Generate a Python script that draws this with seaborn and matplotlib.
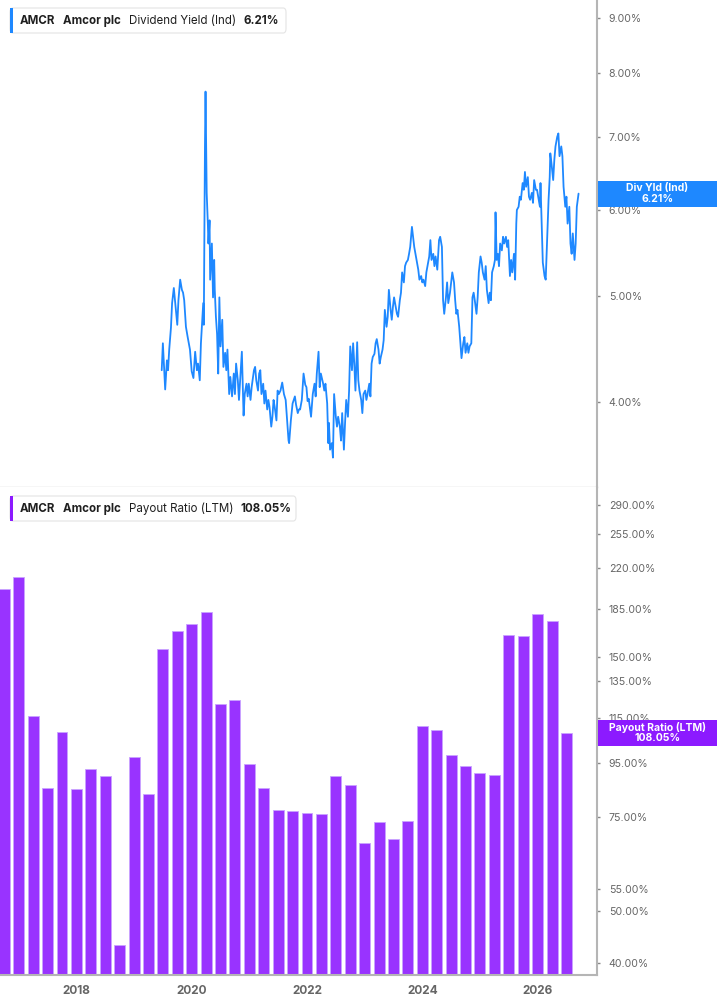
import matplotlib
matplotlib.use('Agg')
import matplotlib.pyplot as plt
import seaborn as sns
from matplotlib.ticker import FixedLocator, FuncFormatter, NullLocator
from matplotlib.patches import FancyBboxPatch, Rectangle

# dividend yield (Ind), % (decimal years)
yield_dates = [
    2019.48, 2019.50, 2019.54, 2019.57, 2019.59, 2019.61, 2019.64, 2019.66, 2019.69, 2019.72,
    2019.75, 2019.77, 2019.80, 2019.83, 2019.85, 2019.87, 2019.90, 2019.93, 2019.97, 2020.00,
    2020.03, 2020.06, 2020.09, 2020.11, 2020.14, 2020.16, 2020.20, 2020.21, 2020.23, 2020.24,
    2020.25, 2020.26, 2020.28, 2020.29, 2020.31, 2020.32, 2020.35, 2020.37, 2020.39, 2020.40,
    2020.42, 2020.44, 2020.46, 2020.48, 2020.50, 2020.53, 2020.55, 2020.58, 2020.60, 2020.62,
    2020.65, 2020.67, 2020.70, 2020.73, 2020.75, 2020.77, 2020.80, 2020.82, 2020.84, 2020.87,
    2020.88, 2020.90, 2020.92, 2020.95, 2020.97, 2020.99, 2021.02, 2021.04, 2021.08, 2021.10,
    2021.12, 2021.15, 2021.17, 2021.19, 2021.21, 2021.24, 2021.26, 2021.28, 2021.31, 2021.33,
    2021.35, 2021.38, 2021.40, 2021.42, 2021.44, 2021.47, 2021.49, 2021.51, 2021.54, 2021.57,
    2021.60, 2021.63, 2021.65, 2021.68, 2021.69, 2021.72, 2021.75, 2021.77, 2021.79, 2021.81,
    2021.84, 2021.86, 2021.88, 2021.91, 2021.94, 2021.97, 2021.99, 2022.01, 2022.03, 2022.07,
    2022.10, 2022.13, 2022.15, 2022.17, 2022.20, 2022.22, 2022.24, 2022.28, 2022.30, 2022.32,
    2022.35, 2022.37, 2022.38, 2022.40, 2022.43, 2022.45, 2022.47, 2022.50, 2022.52, 2022.54,
    2022.57, 2022.59, 2022.61, 2022.64, 2022.66, 2022.68, 2022.71, 2022.73, 2022.75, 2022.78,
    2022.80, 2022.82, 2022.84, 2022.87, 2022.89, 2022.91, 2022.94, 2022.96, 2022.98, 2023.01,
    2023.03, 2023.05, 2023.08, 2023.10, 2023.12, 2023.14, 2023.17, 2023.19, 2023.21, 2023.24,
    2023.26, 2023.28, 2023.31, 2023.33, 2023.35, 2023.38, 2023.40, 2023.42, 2023.45, 2023.47,
    2023.49, 2023.51, 2023.54, 2023.56, 2023.58, 2023.61, 2023.63, 2023.65, 2023.68, 2023.70,
    2023.72, 2023.75, 2023.77, 2023.79, 2023.82, 2023.84, 2023.86, 2023.89, 2023.91, 2023.93,
    2023.95, 2023.98, 2024.00, 2024.02, 2024.05, 2024.07, 2024.09, 2024.12, 2024.14, 2024.16,
    2024.19, 2024.21, 2024.23, 2024.26, 2024.29, 2024.31, 2024.34, 2024.36, 2024.38, 2024.41,
    2024.43, 2024.45, 2024.48, 2024.50, 2024.52, 2024.55, 2024.57, 2024.59, 2024.61, 2024.64,
    2024.66, 2024.68, 2024.71, 2024.73, 2024.75, 2024.78, 2024.80, 2024.82, 2024.85, 2024.87,
    2024.89, 2024.91, 2024.94, 2024.96, 2024.98, 2025.01, 2025.03, 2025.05, 2025.08, 2025.10,
    2025.12, 2025.15, 2025.17, 2025.19, 2025.21, 2025.24, 2025.26, 2025.27, 2025.29, 2025.31,
    2025.33, 2025.35, 2025.38, 2025.40, 2025.42, 2025.45, 2025.47, 2025.49, 2025.52, 2025.54,
    2025.56, 2025.59, 2025.61, 2025.63, 2025.64, 2025.67, 2025.69, 2025.71, 2025.74, 2025.76,
    2025.78, 2025.80, 2025.83, 2025.85, 2025.87, 2025.90, 2025.92, 2025.94, 2025.97, 2025.99,
    2026.01, 2026.04, 2026.05, 2026.07, 2026.09, 2026.12, 2026.14, 2026.16, 2026.19, 2026.21,
    2026.22, 2026.24, 2026.27, 2026.29, 2026.31, 2026.34, 2026.36, 2026.38, 2026.41, 2026.43,
    2026.45, 2026.48, 2026.50, 2026.52, 2026.55, 2026.57, 2026.59, 2026.61, 2026.64, 2026.66,
    2026.68, 2026.71,
]
yield_values = [
    4.28, 4.53, 4.11, 4.37, 4.28, 4.47, 4.68, 4.93, 5.09, 4.89,
    4.71, 4.96, 5.18, 5.07, 5.04, 4.96, 4.69, 4.59, 4.47, 4.27,
    4.21, 4.45, 4.28, 4.34, 4.19, 4.53, 4.93, 4.71, 6.86, 7.70,
    6.95, 6.22, 5.83, 5.59, 5.87, 5.18, 5.59, 4.99, 5.40, 5.07,
    4.79, 4.62, 4.25, 4.99, 4.50, 4.76, 4.31, 4.44, 4.28, 4.47,
    4.07, 4.22, 4.05, 4.25, 4.07, 4.34, 4.19, 4.02, 4.19, 4.45,
    4.25, 3.89, 4.07, 4.16, 4.05, 4.16, 4.02, 4.13, 4.28, 4.31,
    4.19, 4.10, 4.25, 4.28, 4.07, 4.16, 3.99, 4.10, 3.94, 4.02,
    3.96, 3.80, 3.88, 4.02, 3.96, 3.85, 4.10, 4.07, 4.10, 4.17,
    4.07, 4.02, 3.88, 3.69, 3.67, 3.85, 3.99, 4.02, 4.05, 3.98,
    3.91, 3.94, 3.94, 4.02, 4.25, 4.15, 4.13, 4.01, 4.03, 3.88,
    4.07, 4.16, 4.05, 4.25, 4.45, 4.13, 4.25, 4.16, 4.10, 4.16,
    3.99, 3.67, 3.83, 3.62, 3.67, 3.56, 4.07, 3.88, 3.80, 3.88,
    3.80, 3.69, 3.91, 3.62, 3.83, 4.02, 3.88, 4.10, 4.50, 4.28,
    4.53, 4.34, 4.10, 4.54, 4.19, 4.10, 4.02, 3.91, 4.07, 4.10,
    4.02, 4.07, 4.16, 4.05, 4.34, 4.40, 4.43, 4.53, 4.57, 4.47,
    4.34, 4.40, 4.47, 4.56, 4.86, 4.69, 4.79, 5.07, 4.86, 4.76,
    4.89, 4.99, 4.89, 4.82, 4.79, 4.96, 5.04, 5.26, 5.15, 5.33,
    5.37, 5.40, 5.47, 5.55, 5.79, 5.67, 5.55, 5.44, 5.37, 5.29,
    5.18, 5.22, 5.15, 5.18, 5.11, 5.26, 5.33, 5.44, 5.63, 5.40,
    5.47, 5.33, 5.44, 5.29, 5.63, 5.67, 5.55, 4.96, 4.82, 4.99,
    5.15, 4.93, 5.04, 5.15, 5.26, 5.15, 4.96, 4.82, 4.86, 4.69,
    4.53, 4.39, 4.53, 4.59, 4.44, 4.53, 4.44, 4.50, 4.53, 4.99,
    5.04, 4.96, 4.82, 4.99, 5.26, 5.44, 5.37, 5.26, 5.18, 5.33,
    5.07, 4.93, 5.04, 4.96, 5.26, 5.33, 5.40, 5.97, 5.40, 5.47,
    5.33, 5.59, 5.51, 5.67, 5.59, 5.67, 5.55, 5.63, 5.22, 5.40,
    5.26, 5.47, 5.18, 5.83, 6.00, 6.04, 6.17, 6.13, 6.35, 6.26,
    6.50, 6.30, 6.43, 6.17, 6.13, 6.22, 6.09, 6.39, 6.26, 6.26,
    6.17, 6.04, 6.35, 5.83, 5.37, 5.22, 5.18, 5.55, 6.13, 6.43,
    6.76, 6.62, 6.39, 6.67, 6.86, 7.00, 7.05, 6.72, 6.86, 6.72,
    6.30, 6.04, 6.17, 5.83, 6.04, 5.59, 5.47, 5.71, 5.40, 5.59,
    6.04, 6.21,
]

# payout ratio (LTM), %, quarterly
payout_dates = [
    2016.75, 2017.00, 2017.25, 2017.50, 2017.75, 2018.00, 2018.25, 2018.50, 2018.75, 2019.00,
    2019.25, 2019.50, 2019.75, 2020.00, 2020.25, 2020.50, 2020.75, 2021.00, 2021.25, 2021.50,
    2021.75, 2022.00, 2022.25, 2022.50, 2022.75, 2023.00, 2023.25, 2023.50, 2023.75, 2024.00,
    2024.25, 2024.50, 2024.75, 2025.00, 2025.25, 2025.50, 2025.75, 2026.00, 2026.25, 2026.50,
]
payout_values = [
    201.0, 212.0, 116.3, 85.2, 108.5, 84.9, 92.5, 89.7, 43.2, 97.3,
    82.9, 155.2, 168.0, 172.9, 182.6, 122.3, 124.8, 94.4, 85.1, 77.5,
    77.1, 76.5, 76.2, 89.8, 86.1, 67.1, 73.4, 68.3, 73.8, 111.2,
    109.4, 98.1, 93.5, 90.7, 90.2, 164.8, 164.6, 180.5, 175.4, 108.05,
]

yield_ticks = [4, 5, 6, 7, 8, 9]
payout_ticks = [40, 50, 55, 75, 95, 115, 135, 150, 185, 220, 255, 290]
year_ticks = [2018, 2020, 2022, 2024, 2026]

BLUE = '#1e88ff'
PURPLE = '#9933ff'
LABEL_PURPLE = '#8c1aff'

sns.set_style('white')
plt.rcParams['font.family'] = ['Inter', 'DejaVu Sans']

W, H = 717, 1005
fig = plt.figure(figsize=(W / 100, H / 100), dpi=100)
ax1 = fig.add_axes([0, 1 - 487 / H, 597 / W, 487 / H])
ax2 = fig.add_axes([0, 1 - 975 / H, 597 / W, 488 / H])

sns.lineplot(x=yield_dates, y=yield_values, ax=ax1, color=BLUE, lw=1.3,
             estimator=None, sort=False)
sns.barplot(x=payout_dates, y=payout_values, ax=ax2, native_scale=True,
            color=PURPLE, width=0.76, errorbar=None, saturation=1,
            edgecolor='#c9a3ff', linewidth=0.6)

pct = FuncFormatter(lambda v, _: f'{v:.2f}%')
for ax, ticks, lims in [(ax1, yield_ticks, (3.346, 9.34)),
                        (ax2, payout_ticks, (37.9, 313))]:
    ax.set_yscale('log')
    ax.set_ylim(*lims)
    ax.set_xlim(2016.675, 2027.03)
    ax.yaxis.tick_right()
    ax.yaxis.set_major_locator(FixedLocator(ticks))
    ax.yaxis.set_major_formatter(pct)
    ax.yaxis.set_minor_locator(NullLocator())
    ax.tick_params(axis='y', length=2.5, width=1, color='#888888',
                   labelsize=7.6, labelcolor='#666666', pad=6)
    ax.set_xlabel('')
    ax.set_ylabel('')
    ax.spines['left'].set_visible(False)
    ax.spines['top'].set_visible(False)
    ax.spines['right'].set_color('#b5b5b5')
    ax.spines['right'].set_linewidth(1.5)

ax1.set_xticks([])
ax1.spines['bottom'].set_color('#d4d4d4')
ax1.spines['bottom'].set_linewidth(1)

ax2.set_xticks(year_ticks)
ax2.set_xticklabels([str(y) for y in year_ticks])
ax2.xaxis.set_minor_locator(NullLocator())
ax2.tick_params(axis='x', length=4, width=1, color='#999999', labelsize=8.5,
                labelcolor='#666666', pad=3)
for t in ax2.get_xticklabels():
    t.set_fontweight('bold')
ax2.spines['bottom'].set_color('#b5b5b5')
ax2.spines['bottom'].set_linewidth(1.5)


def fx(x):
    return x / W


def fy(y):
    return 1 - y / H


# legend boxes at the top left of each panel
def legend_box(y0, width, color, parts):
    fig.patches.append(FancyBboxPatch(
        (fx(10), fy(y0 + 25)), fx(width), 25 / H,
        boxstyle='round,pad=0,rounding_size=0.004', transform=fig.transFigure,
        fc='white', ec='#e4e4e4', lw=0.8, zorder=5))
    fig.patches.append(Rectangle((fx(10), fy(y0 + 25)), fx(3), 25 / H,
                                 transform=fig.transFigure, fc=color, ec='none',
                                 zorder=6))
    for x, txt, weight in parts:
        fig.text(fx(x), fy(y0 + 12.8), txt, fontsize=8.3, fontweight=weight,
                 color='#1f1f1f', va='center', ha='left', zorder=7)


legend_box(8, 276, BLUE, [(20, 'AMCR', 'bold'), (63, 'Amcor plc', 'bold'),
                          (129, 'Dividend Yield (Ind)', 'normal'),
                          (244, f'{yield_values[-1]:.2f}%', 'bold')])
legend_box(496, 286, LABEL_PURPLE, [(20, 'AMCR', 'bold'), (63, 'Amcor plc', 'bold'),
                                    (129, 'Payout Ratio (LTM)', 'normal'),
                                    (240, f'{payout_values[-1]:.2f}%', 'bold')])


# last value labels on the right axis
def value_label(ax, value, color, title):
    fig.canvas.draw()
    ydisp = ax.transData.transform((2026.0, value))[1]
    yc = ydisp / H
    h = 26 / H
    fig.patches.append(Rectangle((fx(598), yc - h / 2), fx(W - 598), h,
                                 transform=fig.transFigure, fc=color, ec='none',
                                 zorder=8))
    fig.text(fx(657.5), yc + 5.5 / H, title, fontsize=7.5, fontweight='bold',
             color='white', ha='center', va='center', zorder=9)
    fig.text(fx(657.5), yc - 5.5 / H, f'{value:.2f}%', fontsize=7.5, fontweight='bold',
             color='white', ha='center', va='center', zorder=9)


value_label(ax1, yield_values[-1], BLUE, 'Div Yld (Ind)')
value_label(ax2, payout_values[-1], LABEL_PURPLE, 'Payout Ratio (LTM)')

fig.savefig('out.png', dpi=100)
